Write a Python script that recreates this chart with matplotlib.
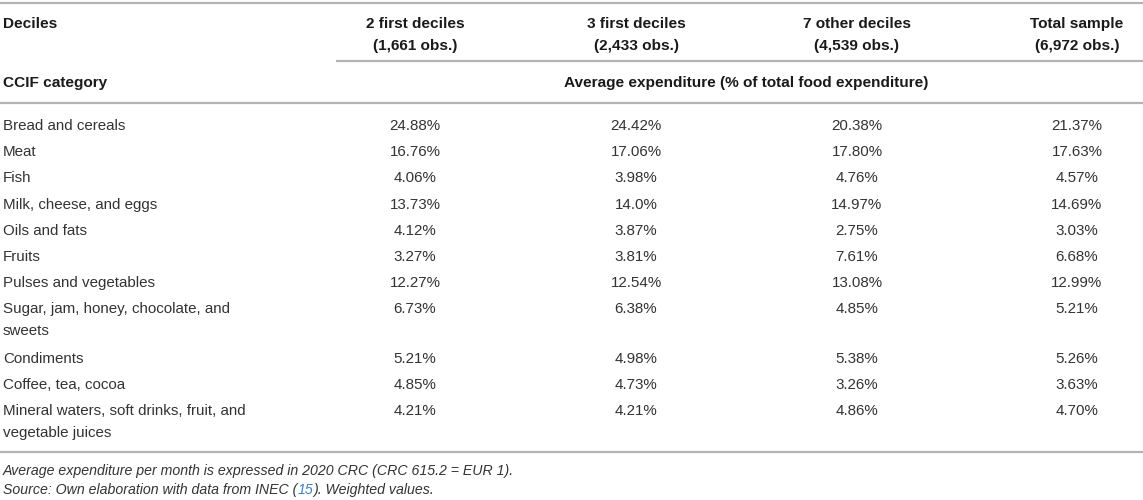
import matplotlib
matplotlib.use("Agg")
import matplotlib.pyplot as plt

# table content
group_names = ["2 first deciles", "3 first deciles", "7 other deciles", "Total sample"]
group_obs = ["(1,661 obs.)", "(2,433 obs.)", "(4,539 obs.)", "(6,972 obs.)"]
categories = [
    "Bread and cereals",
    "Meat",
    "Fish",
    "Milk, cheese, and eggs",
    "Oils and fats",
    "Fruits",
    "Pulses and vegetables",
    "Sugar, jam, honey, chocolate, and\nsweets",
    "Condiments",
    "Coffee, tea, cocoa",
    "Mineral waters, soft drinks, fruit, and\nvegetable juices",
]
first2 = ["24.88", "16.76", "4.06", "13.73", "4.12", "3.27", "12.27", "6.73", "5.21", "4.85", "4.21"]
first3 = ["24.42", "17.06", "3.98", "14.0", "3.87", "3.81", "12.54", "6.38", "4.98", "4.73", "4.21"]
other7 = ["20.38", "17.80", "4.76", "14.97", "2.75", "7.61", "13.08", "4.85", "5.38", "3.26", "4.86"]
total = ["21.37", "17.63", "4.57", "14.69", "3.03", "6.68", "12.99", "5.21", "5.26", "3.63", "4.70"]

plt.rcParams["font.family"] = ["Liberation Sans", "DejaVu Sans"]
FS = 10.9
FS_HEAD = 11.1
FS_NOTE = 10.2
TXT = "#333333"
HEAD = "#1a1a1a"
RULE = "#b4b4b4"

W, H = 1143, 500
fig = plt.figure(figsize=(W / 100, H / 100), dpi=100)
ax = fig.add_axes([0, 0, 1, 1])
ax.set_xlim(0, W)
ax.set_ylim(H, 0)
ax.axis("off")

col_x = [415, 636, 857, 1077]
left = 3


def rule(y, x0=0, x1=W):
    ax.plot([x0, x1], [y, y], color=RULE, lw=1.6, solid_capstyle="butt")


# header
rule(3)
head_kw = dict(fontsize=FS_HEAD, fontweight="bold", color=HEAD, va="center")
ax.text(left, 24, "Deciles", **head_kw)
for x, name, obs in zip(col_x, group_names, group_obs):
    ax.text(x, 24, name, ha="center", **head_kw)
    ax.text(x, 46, obs, ha="center", **head_kw)
rule(61, 336, W)
ax.text(left, 83, "CCIF category", **head_kw)
ax.text((col_x[0] + col_x[-1]) / 2, 83, "Average expenditure (% of total food expenditure)",
        ha="center", **head_kw)
rule(103)

# body rows
y = 119
for i, cat in enumerate(categories):
    ax.text(left, y, cat, fontsize=FS, color=TXT, va="top", ha="left", linespacing=1.72)
    for x, col in zip(col_x, [first2, first3, other7, total]):
        ax.text(x, y, col[i] + "%", fontsize=FS, color=TXT, va="top", ha="center")
    y += 26.2 + 23 * cat.count("\n")

rule(452)

# footnotes
note_kw = dict(fontsize=FS_NOTE, style="italic", color=TXT)
ax.text(left, 471, "Average expenditure per month is expressed in 2020 CRC (CRC 615.2 = EUR 1).",
        va="center", **note_kw)
t1 = ax.text(left, 490, "Source: Own elaboration with data from INEC (", va="center", **note_kw)
t2 = ax.annotate("15", xy=(1, 0), xycoords=t1, va="bottom", ha="left",
                 fontsize=FS_NOTE, style="italic", color="#3f7fc0")
ax.annotate("). Weighted values.", xy=(1, 0), xycoords=t2, va="bottom", ha="left", **note_kw)

fig.savefig("out.png", dpi=100)
